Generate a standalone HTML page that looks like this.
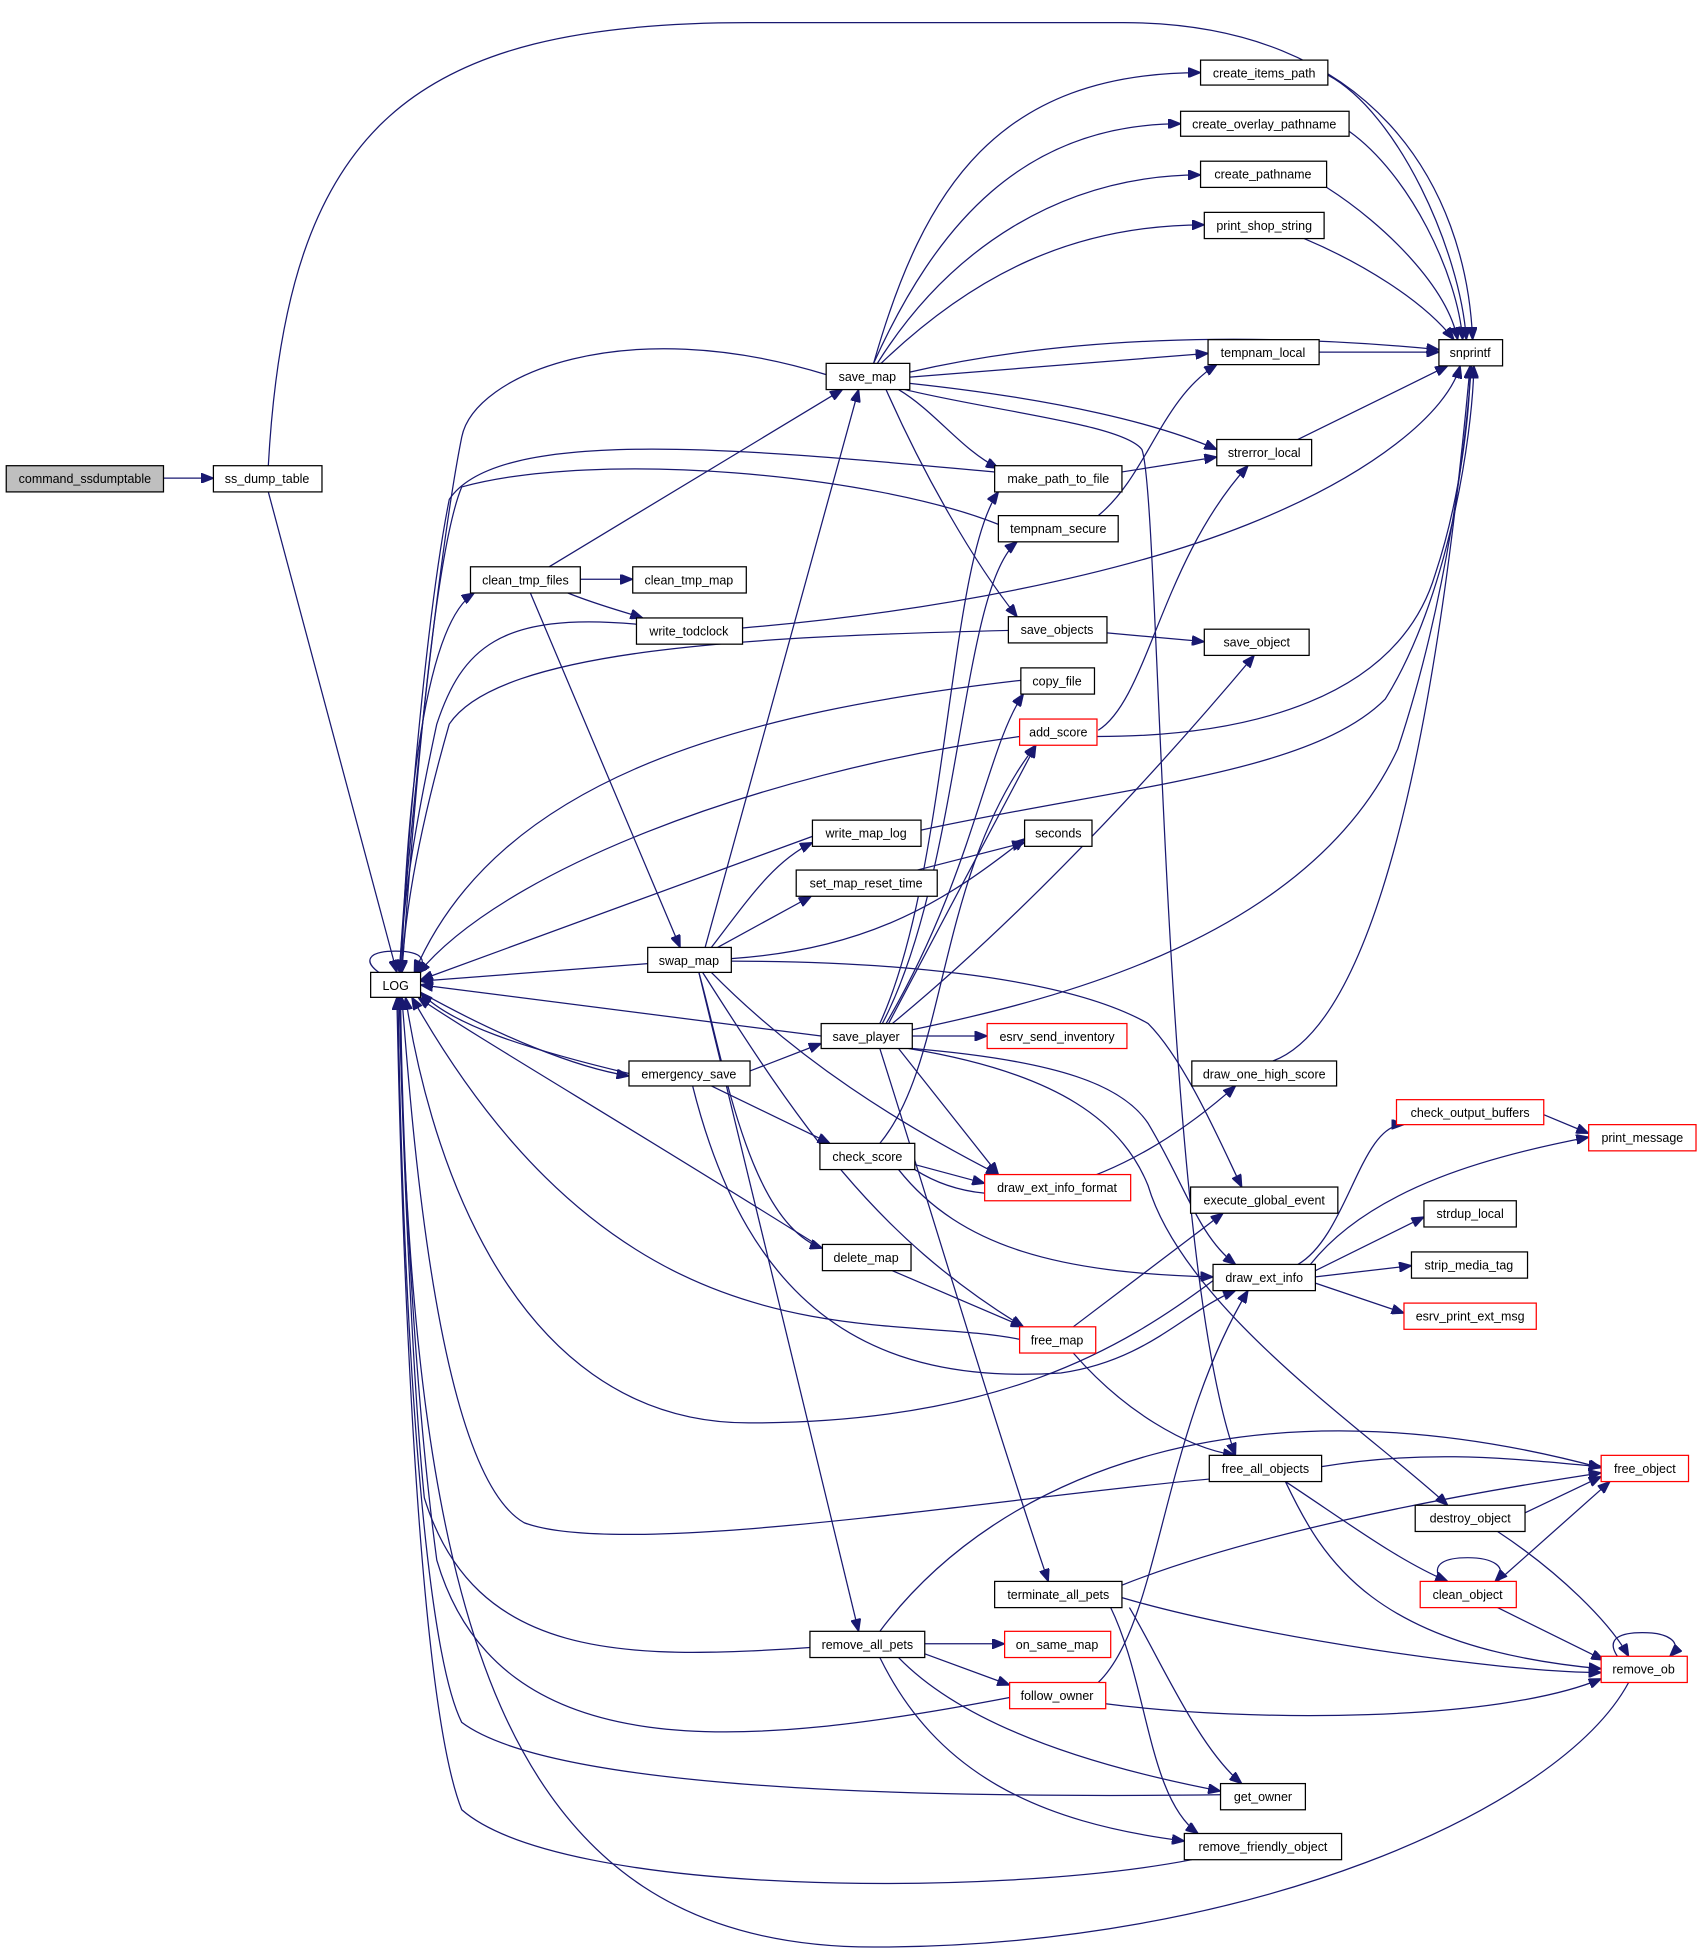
<!DOCTYPE html>
<html><head><meta charset="utf-8"><style>
html,body{margin:0;padding:0;background:#fff;}
svg{display:block}
text{font-family:"Liberation Sans",Arial,sans-serif;font-size:10px;text-anchor:middle;fill:#000}
.e{fill:none;stroke:#191970;stroke-width:1}
rect{fill:#fff;stroke:#000;stroke-width:1}
rect.r{stroke:#ff0000}
rect.g{fill:#bfbfbf}
</style></head><body>
<svg width="1701" height="1956" viewBox="0 0 1363 1567" xmlns="http://www.w3.org/2000/svg">
<defs><marker id="a" markerWidth="10" markerHeight="8" refX="10" refY="4" orient="auto" markerUnits="userSpaceOnUse"><path d="M0,0 L10,4 L0,8 z" fill="#191970" stroke="#191970"/></marker></defs>
<g class="e" marker-end="url(#a)">
<path d="M131,383 L171,383"/>
<path d="M215,394 L318,779"/>
<path d="M215,373 C230,100 330,18 600,18 L900,18 C1100,18 1175,150 1180,272"/>
<path d="M305,780 C290,770 295,762 317,762 C339,762 344,770 332,780"/>
<path d="M700,291 C740,150 800,58 962,58"/>
<path d="M700,291 C750,180 820,99 946,99"/>
<path d="M703,291 C760,200 850,140 962,140"/>
<path d="M706,291 C780,220 860,180 965,180"/>
<path d="M729,298 C850,270 1000,265 1153,280"/>
<path d="M729,302 L968,283"/>
<path d="M729,307 C850,320 930,340 975,360"/>
<path d="M720,312 C750,330 770,360 800,375"/>
<path d="M710,312 C740,380 780,450 815,494"/>
<path d="M725,312 C800,330 900,340 915,360 C930,400 930,1000 990,1166"/>
<path d="M662,300 C500,250 380,300 370,350 C350,450 325,700 320,779"/>
<path d="M1064,60 C1120,90 1170,200 1175,272"/>
<path d="M1081,105 C1130,140 1168,220 1172,272"/>
<path d="M1063,150 C1110,180 1160,230 1168,272"/>
<path d="M1045,191 C1090,210 1140,240 1165,272"/>
<path d="M1057,282 L1153,282"/>
<path d="M1040,352 L1160,293"/>
<path d="M899,378 L975,366"/>
<path d="M797,378 C600,360 400,340 360,400 C340,500 325,700 320,779"/>
<path d="M880,413 C920,380 930,320 975,292"/>
<path d="M800,420 C700,380 480,360 370,390 C345,450 328,700 322,779"/>
<path d="M465,464 L507,464"/>
<path d="M455,475 C480,485 500,490 515,495"/>
<path d="M440,454 L675,312"/>
<path d="M425,475 L545,759"/>
<path d="M322,779 C325,650 340,500 380,475"/>
<path d="M595,503 C750,490 900,460 1000,420 C1100,380 1160,330 1170,293"/>
<path d="M510,500 C400,490 370,520 350,580 C335,650 322,720 321,779"/>
<path d="M887,507 L965,514"/>
<path d="M808,505 C600,510 400,520 360,580 C340,650 325,720 322,779"/>
<path d="M818,545 C600,570 400,620 332,779"/>
<path d="M817,590 C600,620 400,700 335,780"/>
<path d="M880,585 C920,560 930,450 1000,373"/>
<path d="M879,590 C1000,590 1120,560 1150,460 C1170,400 1178,330 1178,293"/>
<path d="M738,665 C900,630 1050,620 1110,560 C1160,480 1180,350 1181,293"/>
<path d="M570,759 C600,720 620,690 651,675"/>
<path d="M651,670 L337,785"/>
<path d="M735,697 L821,675"/>
<path d="M575,759 L650,718"/>
<path d="M586,768 C700,760 760,720 821,672"/>
<path d="M565,759 L688,312"/>
<path d="M519,772 L337,786"/>
<path d="M586,770 C700,770 850,780 920,820 C950,850 980,920 995,951"/>
<path d="M570,779 C640,850 720,900 800,941"/>
<path d="M560,779 C580,850 600,980 659,1000"/>
<path d="M563,779 C640,900 700,990 820,1063"/>
<path d="M560,779 L688,1307"/>
<path d="M658,830 L337,789"/>
<path d="M731,830 L791,830"/>
<path d="M705,820 C760,700 760,450 800,394"/>
<path d="M707,820 C770,700 770,470 815,434"/>
<path d="M710,820 C780,700 790,600 820,556"/>
<path d="M712,820 L830,597"/>
<path d="M715,820 C800,750 900,650 1005,525"/>
<path d="M731,825 C850,800 1050,750 1120,600 C1160,480 1175,350 1179,293"/>
<path d="M720,840 L800,941"/>
<path d="M731,840 C850,850 900,870 920,900 C950,950 960,990 990,1013"/>
<path d="M728,840 C850,860 900,900 920,950 C950,1050 1100,1150 1160,1206"/>
<path d="M705,840 C740,950 800,1150 840,1267"/>
<path d="M601,858 L658,836"/>
<path d="M570,870 L665,916"/>
<path d="M555,870 C600,1050 700,1110 850,1100 C920,1090 950,1050 990,1034"/>
<path d="M504,860 C420,840 360,820 337,795"/>
<path d="M337,795 C400,830 460,855 504,862"/>
<path d="M705,916 C760,850 750,700 830,597"/>
<path d="M733,933 L789,948"/>
<path d="M733,937 C800,980 900,950 990,870"/>
<path d="M720,937 C770,1000 850,1020 972,1023"/>
<path d="M659,1000 C500,900 380,830 335,799"/>
<path d="M715,1018 L820,1063"/>
<path d="M860,1063 L980,972"/>
<path d="M860,1084 C900,1130 950,1160 990,1166"/>
<path d="M817,1073 C700,1050 500,1100 330,799"/>
<path d="M1040,1013 C1080,990 1090,900 1125,901"/>
<path d="M1050,1013 C1100,950 1200,925 1273,911"/>
<path d="M1054,1018 L1141,975"/>
<path d="M1054,1023 L1131,1014"/>
<path d="M1054,1028 L1125,1052"/>
<path d="M972,1026 C900,1080 800,1140 600,1140 C400,1140 340,900 325,799"/>
<path d="M1237,893 L1273,908"/>
<path d="M1020,850 C1100,820 1150,600 1178,293"/>
<path d="M1059,1175 C1150,1160 1220,1170 1283,1175"/>
<path d="M969,1185 C800,1200 500,1250 420,1220 C350,1180 330,900 322,799"/>
<path d="M1030,1187 C1080,1220 1120,1250 1160,1267"/>
<path d="M1030,1187 C1060,1250 1100,1320 1283,1337"/>
<path d="M1222,1212 L1283,1183"/>
<path d="M1200,1227 C1250,1260 1290,1300 1305,1327"/>
<path d="M1200,1267 L1290,1187"/>
<path d="M1155,1267 C1145,1252 1160,1248 1176,1248 C1195,1248 1210,1255 1198,1267"/>
<path d="M1296,1327 C1286,1312 1300,1308 1316,1308 C1335,1308 1350,1315 1338,1327"/>
<path d="M1200,1288 L1285,1330"/>
<path d="M1305,1348 C1250,1450 1000,1560 700,1560 C400,1560 330,1300 320,799"/>
<path d="M899,1270 C1000,1230 1150,1200 1283,1180"/>
<path d="M899,1280 C1000,1310 1200,1340 1283,1340"/>
<path d="M905,1288 C930,1330 960,1400 995,1429"/>
<path d="M890,1288 C920,1350 920,1440 960,1469"/>
<path d="M741,1317 L805,1317"/>
<path d="M741,1325 L809,1350"/>
<path d="M720,1328 C780,1390 900,1420 978,1435"/>
<path d="M705,1328 C750,1420 830,1460 949,1475"/>
<path d="M705,1307 C800,1180 1000,1100 1283,1176"/>
<path d="M649,1320 C500,1330 380,1330 340,1200 C330,1100 322,900 320,799"/>
<path d="M809,1360 C600,1400 400,1420 350,1250 C330,1100 322,900 321,799"/>
<path d="M886,1365 C1000,1380 1200,1380 1283,1345"/>
<path d="M880,1348 C930,1300 930,1150 1000,1034"/>
<path d="M978,1438 C800,1440 450,1440 370,1380 C330,1300 320,900 319,799"/>
<path d="M955,1490 C800,1520 450,1520 370,1450 C330,1350 320,900 318,799"/>
</g>
<g>
<rect class="g" x="5" y="373" width="126" height="21"/><text x="68" y="387">command_ssdumptable</text>
<rect x="171" y="373" width="87" height="21"/><text x="214" y="387">ss_dump_table</text>
<rect x="297" y="779" width="40" height="20"/><text x="317" y="793">LOG</text>
<rect x="662" y="291" width="67" height="21"/><text x="695" y="305">save_map</text>
<rect x="962" y="48" width="102" height="20"/><text x="1013" y="62">create_items_path</text>
<rect x="946" y="89" width="135" height="20"/><text x="1013" y="103">create_overlay_pathname</text>
<rect x="962" y="129" width="101" height="21"/><text x="1012" y="143">create_pathname</text>
<rect x="965" y="170" width="96" height="21"/><text x="1013" y="184">print_shop_string</text>
<rect x="1153" y="272" width="51" height="21"/><text x="1178" y="286">snprintf</text>
<rect x="968" y="272" width="89" height="20"/><text x="1012" y="286">tempnam_local</text>
<rect x="975" y="352" width="76" height="21"/><text x="1013" y="366">strerror_local</text>
<rect x="797" y="373" width="102" height="21"/><text x="848" y="387">make_path_to_file</text>
<rect x="800" y="413" width="96" height="21"/><text x="848" y="427">tempnam_secure</text>
<rect x="377" y="454" width="88" height="21"/><text x="421" y="468">clean_tmp_files</text>
<rect x="507" y="454" width="91" height="21"/><text x="552" y="468">clean_tmp_map</text>
<rect x="510" y="495" width="85" height="21"/><text x="552" y="509">write_todclock</text>
<rect x="808" y="494" width="79" height="21"/><text x="847" y="508">save_objects</text>
<rect x="965" y="504" width="84" height="21"/><text x="1007" y="518">save_object</text>
<rect x="818" y="535" width="59" height="21"/><text x="847" y="549">copy_file</text>
<rect class="r" x="817" y="576" width="62" height="21"/><text x="848" y="590">add_score</text>
<rect x="651" y="657" width="87" height="21"/><text x="694" y="671">write_map_log</text>
<rect x="821" y="657" width="54" height="21"/><text x="848" y="671">seconds</text>
<rect x="638" y="697" width="113" height="21"/><text x="694" y="711">set_map_reset_time</text>
<rect x="519" y="759" width="67" height="20"/><text x="552" y="773">swap_map</text>
<rect x="658" y="820" width="73" height="20"/><text x="694" y="834">save_player</text>
<rect class="r" x="791" y="820" width="112" height="20"/><text x="847" y="834">esrv_send_inventory</text>
<rect x="504" y="850" width="97" height="20"/><text x="552" y="864">emergency_save</text>
<rect x="955" y="850" width="116" height="20"/><text x="1013" y="864">draw_one_high_score</text>
<rect class="r" x="1119" y="881" width="118" height="20"/><text x="1178" y="895">check_output_buffers</text>
<rect class="r" x="1273" y="901" width="86" height="21"/><text x="1316" y="915">print_message</text>
<rect x="657" y="916" width="76" height="21"/><text x="695" y="930">check_score</text>
<rect class="r" x="789" y="941" width="117" height="21"/><text x="847" y="955">draw_ext_info_format</text>
<rect x="954" y="951" width="118" height="21"/><text x="1013" y="965">execute_global_event</text>
<rect x="1141" y="962" width="74" height="21"/><text x="1178" y="976">strdup_local</text>
<rect x="659" y="997" width="71" height="21"/><text x="694" y="1011">delete_map</text>
<rect x="972" y="1013" width="82" height="21"/><text x="1013" y="1027">draw_ext_info</text>
<rect x="1131" y="1003" width="93" height="21"/><text x="1177" y="1017">strip_media_tag</text>
<rect class="r" x="1125" y="1044" width="106" height="21"/><text x="1178" y="1058">esrv_print_ext_msg</text>
<rect class="r" x="817" y="1063" width="61" height="21"/><text x="847" y="1077">free_map</text>
<rect x="969" y="1166" width="90" height="21"/><text x="1014" y="1180">free_all_objects</text>
<rect class="r" x="1283" y="1166" width="70" height="21"/><text x="1318" y="1180">free_object</text>
<rect x="1134" y="1206" width="88" height="21"/><text x="1178" y="1220">destroy_object</text>
<rect x="797" y="1267" width="102" height="21"/><text x="848" y="1281">terminate_all_pets</text>
<rect class="r" x="1138" y="1267" width="77" height="21"/><text x="1176" y="1281">clean_object</text>
<rect x="649" y="1307" width="92" height="21"/><text x="695" y="1321">remove_all_pets</text>
<rect class="r" x="805" y="1307" width="85" height="21"/><text x="847" y="1321">on_same_map</text>
<rect class="r" x="1283" y="1327" width="69" height="21"/><text x="1317" y="1341">remove_ob</text>
<rect class="r" x="809" y="1348" width="77" height="21"/><text x="847" y="1362">follow_owner</text>
<rect x="978" y="1429" width="68" height="21"/><text x="1012" y="1443">get_owner</text>
<rect x="949" y="1469" width="126" height="21"/><text x="1012" y="1483">remove_friendly_object</text>
</g>
</svg>
</body></html>
